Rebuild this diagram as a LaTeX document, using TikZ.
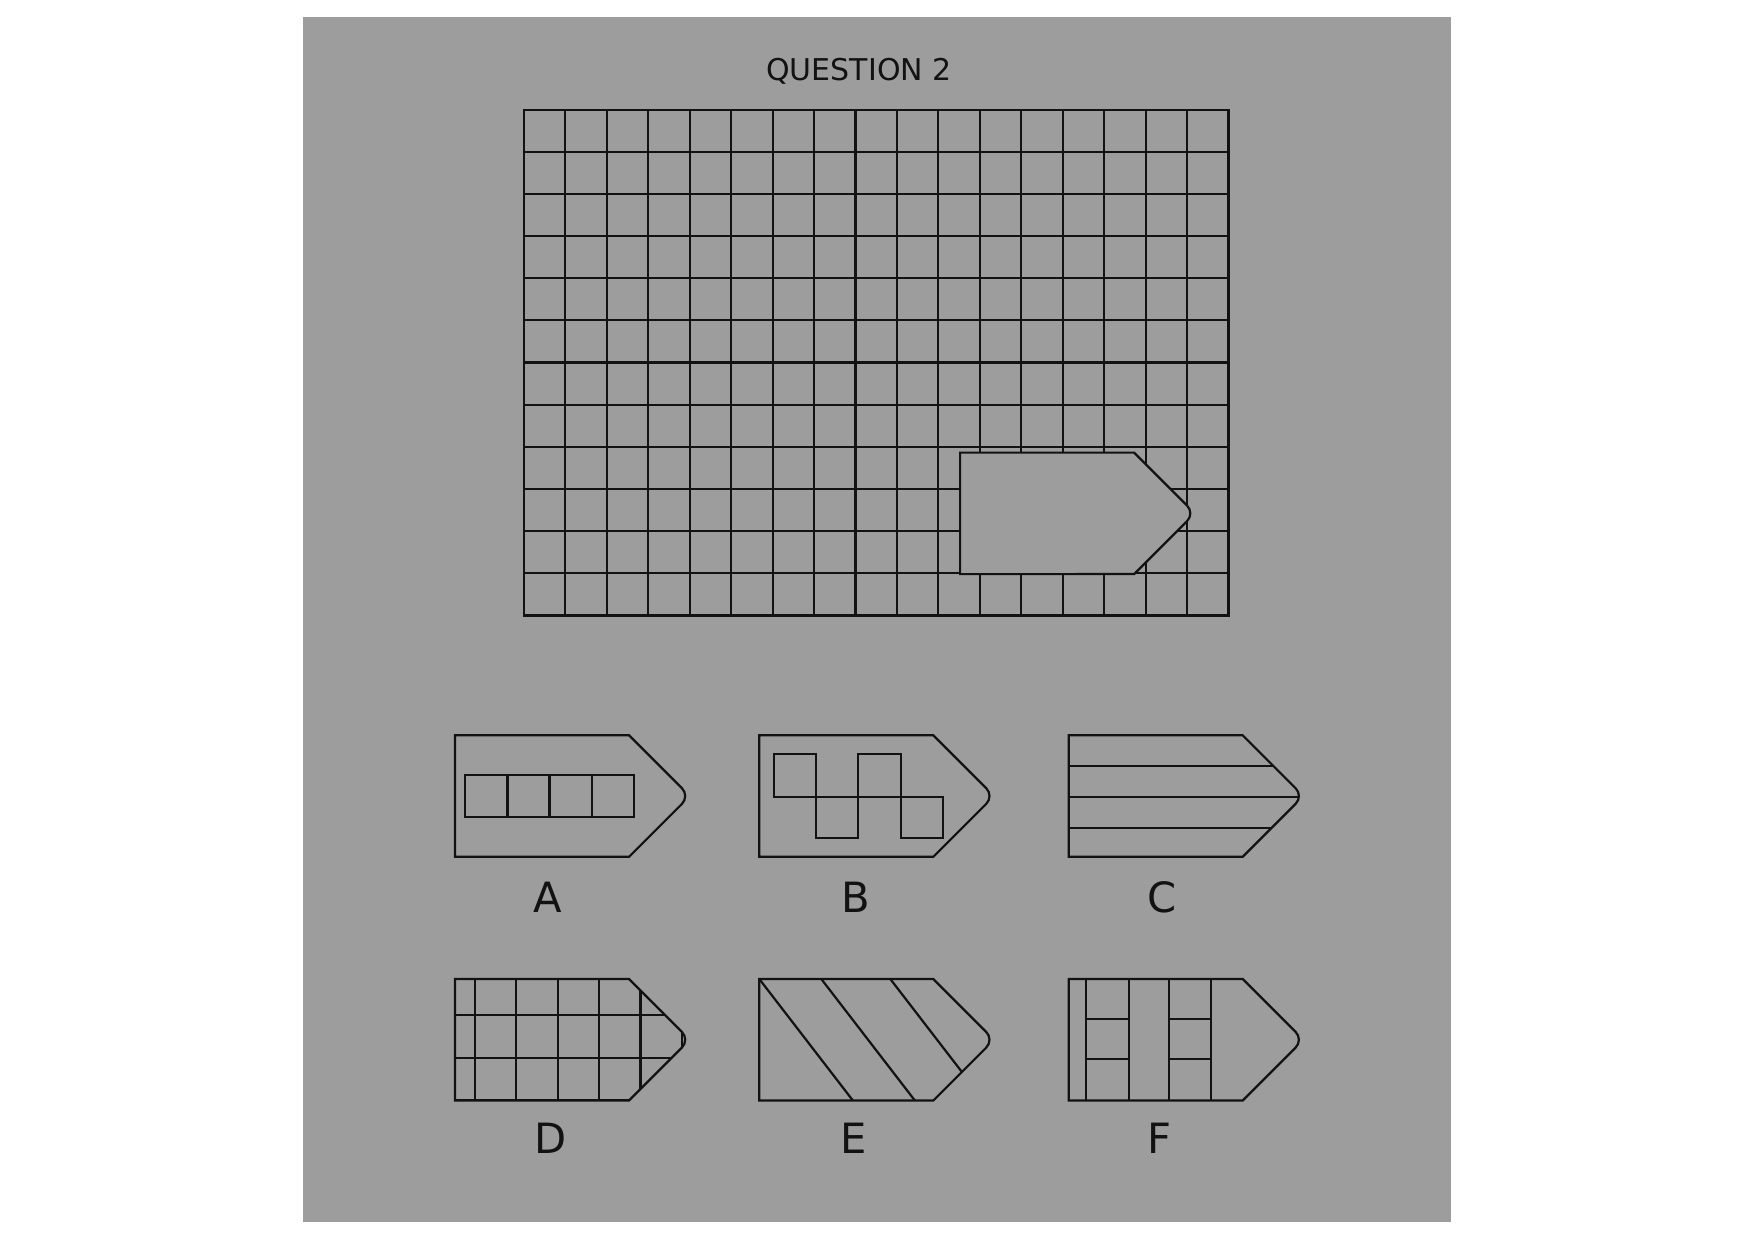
\documentclass[tikz,border=0pt]{standalone}
\usepackage{fontspec}
\setmainfont{DejaVu Sans}
\definecolor{bg}{RGB}{157,157,157}
\definecolor{ink}{RGB}{18,18,18}
\newcommand{\pentpath}{(0,0) -- (174,0) -- ++(52.97,52.97) arc[start angle=45,end angle=-45,radius=11pt] -- ++(-52.97,52.97) -- (0,121.5) -- cycle}
\tikzset{
  outl/.style={draw=ink, line width=2.2pt, line join=miter},
  gline/.style={draw=ink, line width=2.1pt},
  lbl/.style={anchor=base, inner sep=0pt, text=ink, font=\fontsize{41.7}{44}\selectfont},
  ttl/.style={anchor=base, inner sep=0pt, text=ink, font=\fontsize{30}{33}\selectfont}
}
\begin{document}
\begin{tikzpicture}[x=1pt,y=-1pt]
\useasboundingbox (0,0) rectangle (1754,1241);
\fill[white] (0,0) rectangle (1754,1241);
\fill[bg] (303,17) rectangle (1451,1222);
\node[ttl] (title) at (859,80.7) {QUESTION 2};
% main grid
\foreach \i in {0,...,17} \draw[gline] ({523.9+\i*41.447},109.6) -- ({523.9+\i*41.447},615.5);
\foreach \j in {0,...,12} \draw[gline] (523.9,{109.6+\j*42.158}) -- (1228.5,{109.6+\j*42.158});
\draw[gline] (523.9,109.6) rectangle (1228.5,615.5);
% shape on grid
\begin{scope}[shift={(960.1,452.6)}]
  \filldraw[outl, fill=bg] \pentpath;
\end{scope}
% A
\begin{scope}[shift={(455,735.3)}]
  \draw[outl] \pentpath;
  \foreach \k in {0,1,2,3} \draw[outl] ({10.3+\k*42.1},40) rectangle ({10.3+(\k+1)*42.1},82);
\end{scope}
% B
\begin{scope}[shift={(759.3,735.3)}]
  \draw[outl] \pentpath;
  \draw[outl] (15,18.7) rectangle (57,61.4);
  \draw[outl] (99,18.7) rectangle (141.4,61.4);
  \draw[outl] (57,61.4) rectangle (99,103);
  \draw[outl] (141.4,61.4) rectangle (184,103);
\end{scope}
% C
\begin{scope}[shift={(1068.7,735.3)}]
  \begin{scope}
    \clip \pentpath;
    \foreach \yy in {30.6,61.9,92.8} \draw[outl] (-5,\yy) -- (260,\yy);
  \end{scope}
  \draw[outl] \pentpath;
\end{scope}
% D
\begin{scope}[shift={(455,979)}]
  \begin{scope}
    \clip \pentpath;
    \foreach \k in {0,...,5} \draw[gline] ({19.7+\k*41.447},-5) -- ({19.7+\k*41.447},130);
    \foreach \k in {0,1,2} \draw[gline] (-5,{36.4+\k*42.158}) -- (260,{36.4+\k*42.158});
  \end{scope}
  \draw[outl] \pentpath;
\end{scope}
% E
\begin{scope}[shift={(759.3,979)}]
  \begin{scope}
    \clip \pentpath;
    \foreach \xx in {0,62,131} \draw[outl] ({\xx-10*0.77},-10) -- ({\xx+131.5*0.77},131.5);
  \end{scope}
  \draw[outl] \pentpath;
\end{scope}
% F
\begin{scope}[shift={(1068.7,979)}]
  \draw[outl] \pentpath;
  \foreach \xx in {17.6,60,100,142} \draw[outl] (\xx,0) -- (\xx,121.5);
  \foreach \yy in {39.7,79.7} {
    \draw[outl] (17.6,\yy) -- (60,\yy);
    \draw[outl] (100,\yy) -- (142,\yy);
  }
\end{scope}
% labels
\node[lbl] (la) at (547.5,912.7) {A};
\node[lbl] (lb) at (856,912.7) {B};
\node[lbl] (lc) at (1162,912.7) {C};
\node[lbl] (ld) at (550.5,1153.3) {D};
\node[lbl] (le) at (853.4,1153.3) {E};
\node[lbl] (lf) at (1159,1153.3) {F};
\end{tikzpicture}
\end{document}
